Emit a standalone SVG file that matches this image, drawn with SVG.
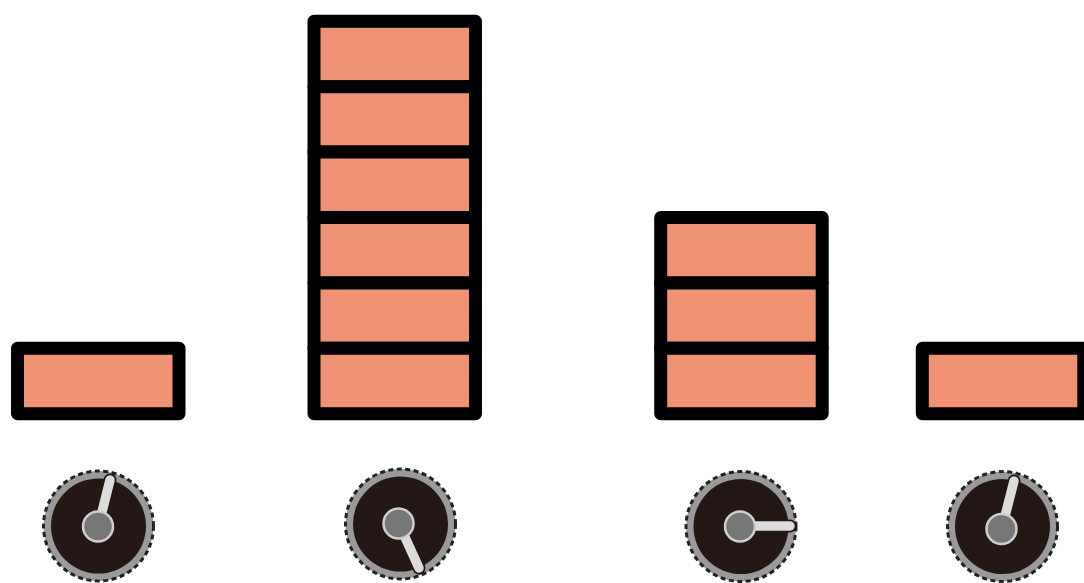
<svg xmlns="http://www.w3.org/2000/svg" width="1084" height="583" viewBox="0 0 1084 583">
<style>
.cell{fill:#EF9273;stroke:#000;stroke-width:13;stroke-linejoin:round}
.ring{fill:#9a9a9a;stroke:#222;stroke-width:3;stroke-dasharray:5 3.5}
.face{fill:#231816}
.ptrO{stroke:#231816;stroke-width:13;stroke-linecap:round}
.ptr{stroke:#dcdcdc;stroke-width:9.5;stroke-linecap:round}
.hub{fill:#777;stroke:#cfcfcf;stroke-width:2.5}
</style>
<rect width="1084" height="583" fill="#fff"/>
<g id="bar1">
<rect class="cell" x="17.5" y="348.3" width="161.5" height="65.4"/>
</g>
<g id="bar2">
<rect class="cell" x="314" y="21.3" width="161.5" height="65.4"/>
<rect class="cell" x="314" y="86.7" width="161.5" height="65.4"/>
<rect class="cell" x="314" y="152.1" width="161.5" height="65.4"/>
<rect class="cell" x="314" y="217.5" width="161.5" height="65.4"/>
<rect class="cell" x="314" y="282.9" width="161.5" height="65.4"/>
<rect class="cell" x="314" y="348.3" width="161.5" height="65.4"/>
</g>
<g id="bar3">
<rect class="cell" x="660.7" y="217.5" width="161.5" height="65.4"/>
<rect class="cell" x="660.7" y="282.9" width="161.5" height="65.4"/>
<rect class="cell" x="660.7" y="348.3" width="161.5" height="65.4"/>
</g>
<g id="bar4">
<rect class="cell" x="922.3" y="348.3" width="161.5" height="65.4"/>
</g>
<g id="knob1">
<circle class="ring" cx="98.5" cy="526" r="55"/>
<circle class="face" cx="98.5" cy="526" r="47.5"/>
<line class="ptrO" x1="98.5" y1="526" x2="110" y2="480"/>
<line class="ptr" x1="98.5" y1="526" x2="110" y2="480"/>
<circle class="hub" cx="98" cy="526.5" r="15"/>
</g>
<g id="knob2">
<circle class="ring" cx="400.5" cy="524" r="55"/>
<circle class="face" cx="400.5" cy="524" r="47.5"/>
<line class="ptrO" x1="399" y1="524" x2="419" y2="568"/>
<line class="ptr" x1="399" y1="524" x2="419" y2="568"/>
<circle class="hub" cx="398.5" cy="523.5" r="15"/>
</g>
<g id="knob3">
<circle class="ring" cx="741" cy="526.5" r="55"/>
<circle class="face" cx="741" cy="526.5" r="47.5"/>
<line class="ptrO" x1="741" y1="526" x2="790" y2="526"/>
<line class="ptr" x1="741" y1="526" x2="790" y2="526"/>
<circle class="hub" cx="740" cy="526.5" r="15"/>
</g>
<g id="knob4">
<circle class="ring" cx="1002.5" cy="526.5" r="55"/>
<circle class="face" cx="1002.5" cy="526.5" r="47.5"/>
<line class="ptrO" x1="1002" y1="528" x2="1014" y2="481"/>
<line class="ptr" x1="1002" y1="528" x2="1014" y2="481"/>
<circle class="hub" cx="1001.5" cy="529" r="15"/>
</g>
<g id="connectors"/>
</svg>
